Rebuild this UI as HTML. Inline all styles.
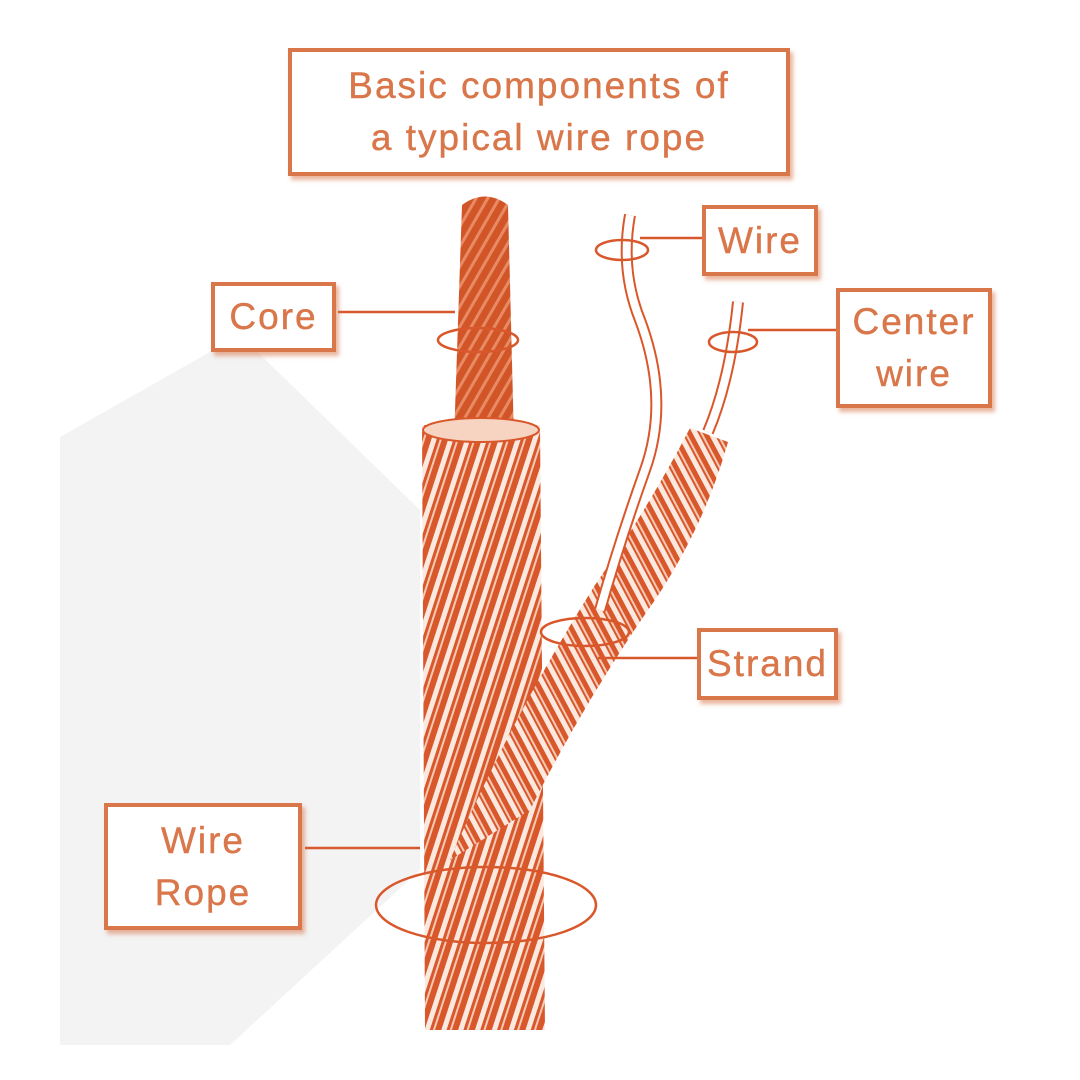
<!DOCTYPE html>
<html><head><meta charset="utf-8"><style>
body{margin:0;width:1080px;height:1080px;background:#fff;overflow:hidden;position:relative;font-family:"Liberation Sans",sans-serif}
.b{position:absolute;border:4px solid #d9764a;background:#fff;box-shadow:3px 4px 4px rgba(217,118,74,.55);color:#d9764a;text-align:center;font-size:37px;letter-spacing:2px;-webkit-text-stroke:0.4px #d9764a;box-sizing:border-box;display:flex;align-items:center;justify-content:center;line-height:52px}
svg{position:absolute;left:0;top:0}
</style></head><body>
<svg width="1080" height="1080">
<defs>
<pattern id="st" width="16" height="40" patternUnits="userSpaceOnUse" patternTransform="rotate(18)">
<rect width="16" height="40" fill="#d9582b"/><rect x="2" width="5" height="40" fill="#fbe9e0"/><rect x="10" y="0" width="2" height="40" fill="#f5c9b4"/>
</pattern>
<pattern id="st2" width="14" height="40" patternUnits="userSpaceOnUse" patternTransform="rotate(-28)">
<rect width="14" height="40" fill="#d9582b"/><rect x="2" width="5" height="40" fill="#fbe9e0"/><rect x="9" width="2" height="40" fill="#f5c9b4"/>
</pattern>
<pattern id="cr" width="10" height="10" patternUnits="userSpaceOnUse" patternTransform="rotate(30)">
<rect width="10" height="10" fill="#d25528"/><rect width="3" height="10" fill="#e88a63"/>
</pattern>
</defs>
<polygon points="60,437 240,335 420,510 420,870 230,1045 60,1045" fill="#f3f3f3"/>
<path d="M462,205 Q485,188 508,205 L514,440 L454,440 Z" fill="url(#cr)"/>
<path d="M422,425 L540,425 L545,1030 L425,1030 Z" fill="url(#st)"/>
<ellipse cx="481" cy="430" rx="58" ry="12" fill="#f7d3c2" stroke="#d9582b" stroke-width="2"/>
<path d="M450,860 Q510,720 595,585 Q650,505 690,428 L728,442 Q705,525 655,600 Q585,700 530,810 Z" fill="url(#st2)"/>
<path d="M630,215 Q620,270 640,320 Q670,400 645,470 Q620,540 600,610" fill="none" stroke="#d9582b" stroke-width="12"/>
<path d="M630,215 Q620,270 640,320 Q670,400 645,470 Q620,540 600,610" fill="none" stroke="#fff" stroke-width="8"/>
<path d="M738,302 Q730,380 708,432" fill="none" stroke="#d9582b" stroke-width="12"/>
<path d="M738,302 Q730,380 708,432" fill="none" stroke="#fff" stroke-width="8"/>
<g fill="none" stroke="#d9582b" stroke-width="2.5">
<line x1="338" y1="312" x2="455" y2="312"/>
<ellipse cx="478" cy="340" rx="40" ry="12"/>
<line x1="640" y1="238" x2="702" y2="238"/>
<ellipse cx="622" cy="250" rx="26" ry="10"/>
<line x1="748" y1="330" x2="836" y2="330"/>
<ellipse cx="733" cy="342" rx="24" ry="10"/>
<ellipse cx="585" cy="632" rx="44" ry="14"/>
<line x1="598" y1="658" x2="697" y2="658"/>
<line x1="305" y1="848" x2="420" y2="848"/>
<ellipse cx="486" cy="905" rx="110" ry="38"/>
</g>
</svg>
<div class="b" style="left:288px;top:48px;width:502px;height:128px;font-size:37px">Basic components of<br>a typical wire rope</div>
<div class="b" style="left:211px;top:282px;width:125px;height:70px">Core</div>
<div class="b" style="left:702px;top:205px;width:116px;height:71px">Wire</div>
<div class="b" style="left:836px;top:288px;width:156px;height:120px">Center<br>wire</div>
<div class="b" style="left:697px;top:628px;width:141px;height:72px">Strand</div>
<div class="b" style="left:104px;top:803px;width:198px;height:127px">Wire<br>Rope</div>
</body></html>
